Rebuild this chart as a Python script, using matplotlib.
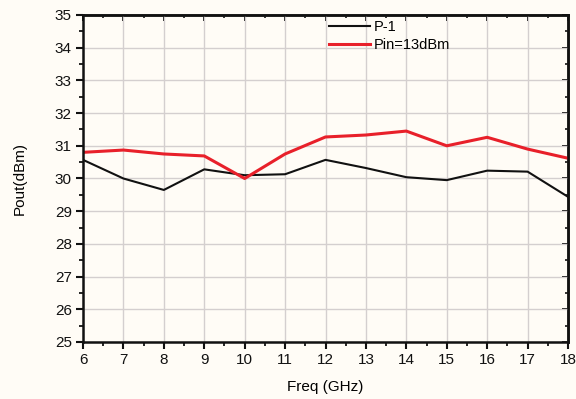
import matplotlib
matplotlib.use("Agg")
import matplotlib.pyplot as plt
from matplotlib.ticker import MultipleLocator

plt.rcParams['font.family'] = ['Liberation Sans', 'DejaVu Sans']

freq = [6, 7, 8, 9, 10, 11, 12, 13, 14, 15, 16, 17, 18]
p1 = [30.57, 30.0, 29.65, 30.28, 30.1, 30.13, 30.57, 30.32, 30.04, 29.95, 30.24, 30.21, 29.44]
pin13 = [30.8, 30.87, 30.75, 30.69, 30.0, 30.75, 31.27, 31.33, 31.45, 31.0, 31.26, 30.9, 30.62]

x_ticks = list(range(6, 19))
y_ticks = list(range(25, 36))

bg = '#fffcf6'
fig = plt.figure(figsize=(5.76, 3.99), dpi=100, facecolor=bg)
ax = fig.add_axes([83 / 576, 1 - 342 / 399, (568 - 83) / 576, (342 - 15) / 399])
ax.set_facecolor(bg)

ax.plot(freq, p1, color='#111111', lw=1.5, label='P-1')
ax.plot(freq, pin13, color='#e8202a', lw=2.2, label='Pin=13dBm')

ax.set_xlim(6, 18)
ax.set_ylim(25, 35)
ax.set_xticks(x_ticks)
ax.set_yticks(y_ticks)
ax.xaxis.set_minor_locator(MultipleLocator(0.5))
ax.yaxis.set_minor_locator(MultipleLocator(0.5))
ax.grid(True, which='major', color='#d4cfcf', lw=1.0)
ax.set_axisbelow(True)

for s in ax.spines.values():
    s.set_linewidth(1.8)
    s.set_color('#111111')

ax.tick_params(axis='both', which='major', direction='out', length=5, width=1.5,
               labelsize=11, colors='#111111', pad=3)
ax.tick_params(axis='both', which='minor', direction='out', length=3, width=1.2)

# inward ticks on the top and right frame edges
top = ax.secondary_xaxis('top')
top.set_xticks(x_ticks)
top.xaxis.set_minor_locator(MultipleLocator(0.5))
top.tick_params(which='major', direction='in', length=4, width=1.3, labeltop=False)
top.tick_params(which='minor', direction='in', length=2.5, width=1.1)
top.spines['top'].set_linewidth(1.8)
right = ax.secondary_yaxis('right')
right.set_yticks(y_ticks)
right.yaxis.set_minor_locator(MultipleLocator(0.5))
right.tick_params(which='major', direction='in', length=4, width=1.3, labelright=False)
right.tick_params(which='minor', direction='in', length=2.5, width=1.1)
right.spines['right'].set_linewidth(1.8)

ax.set_xlabel('Freq (GHz)', fontsize=11, labelpad=9)
ax.set_ylabel('Pout(dBm)', fontsize=11, labelpad=20)

ax.legend(loc='upper left', bbox_to_anchor=(0.48, 1.025), frameon=False,
          fontsize=10.5, handlelength=2.8, handletextpad=0.3, labelspacing=0.3)

fig.savefig('out.png', dpi=100, facecolor=bg)
